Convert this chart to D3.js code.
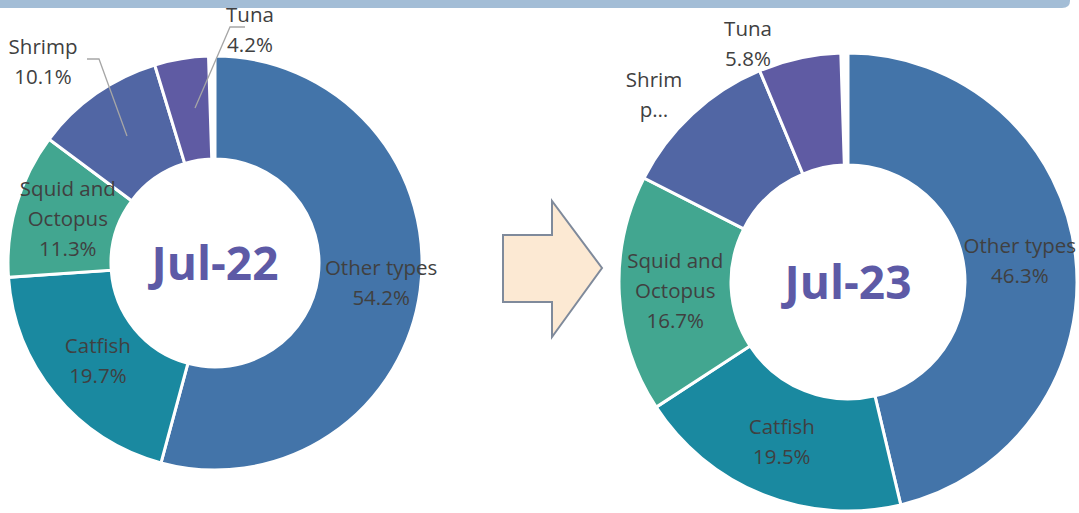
<!DOCTYPE html>
<html><head><meta charset="utf-8">
<script src="https://cdn.jsdelivr.net/npm/d3@7"></script>
<style>html,body{margin:0;padding:0;background:#fff;}svg{display:block;}</style>
</head><body>
<svg id="c" width="1079" height="513"></svg>
<script>
const categories = ["Other types","Catfish","Squid and Octopus","Shrimp","Tuna"];
const jul22 = [54.2, 19.7, 11.3, 10.1, 4.2];
const jul23 = [46.3, 19.5, 16.7, 11.2, 5.8];
const periods = ["Jul-22","Jul-23"];
const colors = ["#4374A9","#1A89A0","#42A690","#5166A4","#5F5BA3"];

const svg = d3.select("#c");
const font = "'Open Sans', sans-serif";

// top band
svg.append("path")
  .attr("d","M0,0 H1070 V1 Q1070,8 1062,8 H0 Z")
  .attr("fill","#A3BDD6");

// arrow
svg.append("path")
  .attr("d","M503,235 H552 V201 L602,268 L552,337 V302 H503 Z")
  .attr("fill","#FCE9D3").attr("stroke","#7F8A9B").attr("stroke-width",2);

const charts = [
  {values: jul22, title: periods[0], cx: 215, cy: 263, r: 207, ri: 104,
   labels: [
     {lines:["Other types","54.2%"], nudge:[12,0]},
     {lines:["Catfish","19.7%"], nudge:[3,0]},
     {lines:["Squid and","Octopus","11.3%"], nudge:[2,0]},
     {lines:["Shrimp","10.1%"], at:[-172,-201], leader:[[-88,-127],[-116,-204],[-128,-204]]},
     {lines:["Tuna","4.2%"], at:[35,-232.5], leader:[[-20,-155],[15,-236],[30,-236]]}
   ]},
  {values: jul23, title: periods[1], cx: 848, cy: 282, r: 229, ri: 117,
   labels: [
     {lines:["Other types","46.3%"]},
     {lines:["Catfish","19.5%"], nudge:[-2,0]},
     {lines:["Squid and","Octopus","16.7%"]},
     {lines:["Shrim","p…"], at:[-194,-186.5]},
     {lines:["Tuna","5.8%"], at:[-100,-237.5]}
   ]}
];

const lh = 30;

charts.forEach(ch=>{
  const total = d3.sum(ch.values);
  const pie = d3.pie().sort(null).value(d=>d).startAngle(0).endAngle(2*Math.PI*total/100);
  const g = svg.append("g").attr("transform",`translate(${ch.cx},${ch.cy})`);
  const arc = d3.arc().innerRadius(ch.ri).outerRadius(ch.r);
  const arcs = pie(ch.values);
  g.selectAll("path.s").data(arcs).join("path").attr("class","s")
    .attr("d",arc).attr("fill",(d,i)=>colors[i])
    .attr("stroke","#fff").attr("stroke-width",3).attr("stroke-linejoin","miter");
  const mid = d3.arc().innerRadius((ch.ri+ch.r)/2).outerRadius((ch.ri+ch.r)/2);
  arcs.forEach((a,i)=>{
    const L = ch.labels[i];
    let p = L.at ? L.at.slice() : mid.centroid(a);
    if(L.nudge){ p[0]+=L.nudge[0]; p[1]+=L.nudge[1]; }
    if(L.leader){
      g.append("polyline").attr("points",L.leader.map(q=>q.join(",")).join(" "))
        .attr("fill","none").attr("stroke","#A6A6A6").attr("stroke-width",1.3);
    }
    const n = L.lines.length;
    const t = g.append("text").attr("text-anchor","middle")
      .attr("font-family",font).attr("font-size",20.5).attr("fill","#404040");
    L.lines.forEach((s,k)=>{
      t.append("tspan").attr("x",p[0]).attr("y",p[1]+(k-(n-1)/2)*lh+6.5).text(s);
    });
  });
  g.append("text").attr("text-anchor","middle").attr("y",17)
    .attr("font-family",font).attr("font-weight","bold").attr("font-size",46)
    .attr("fill","#5D5AA6").text(ch.title);
});
</script>
</body></html>
